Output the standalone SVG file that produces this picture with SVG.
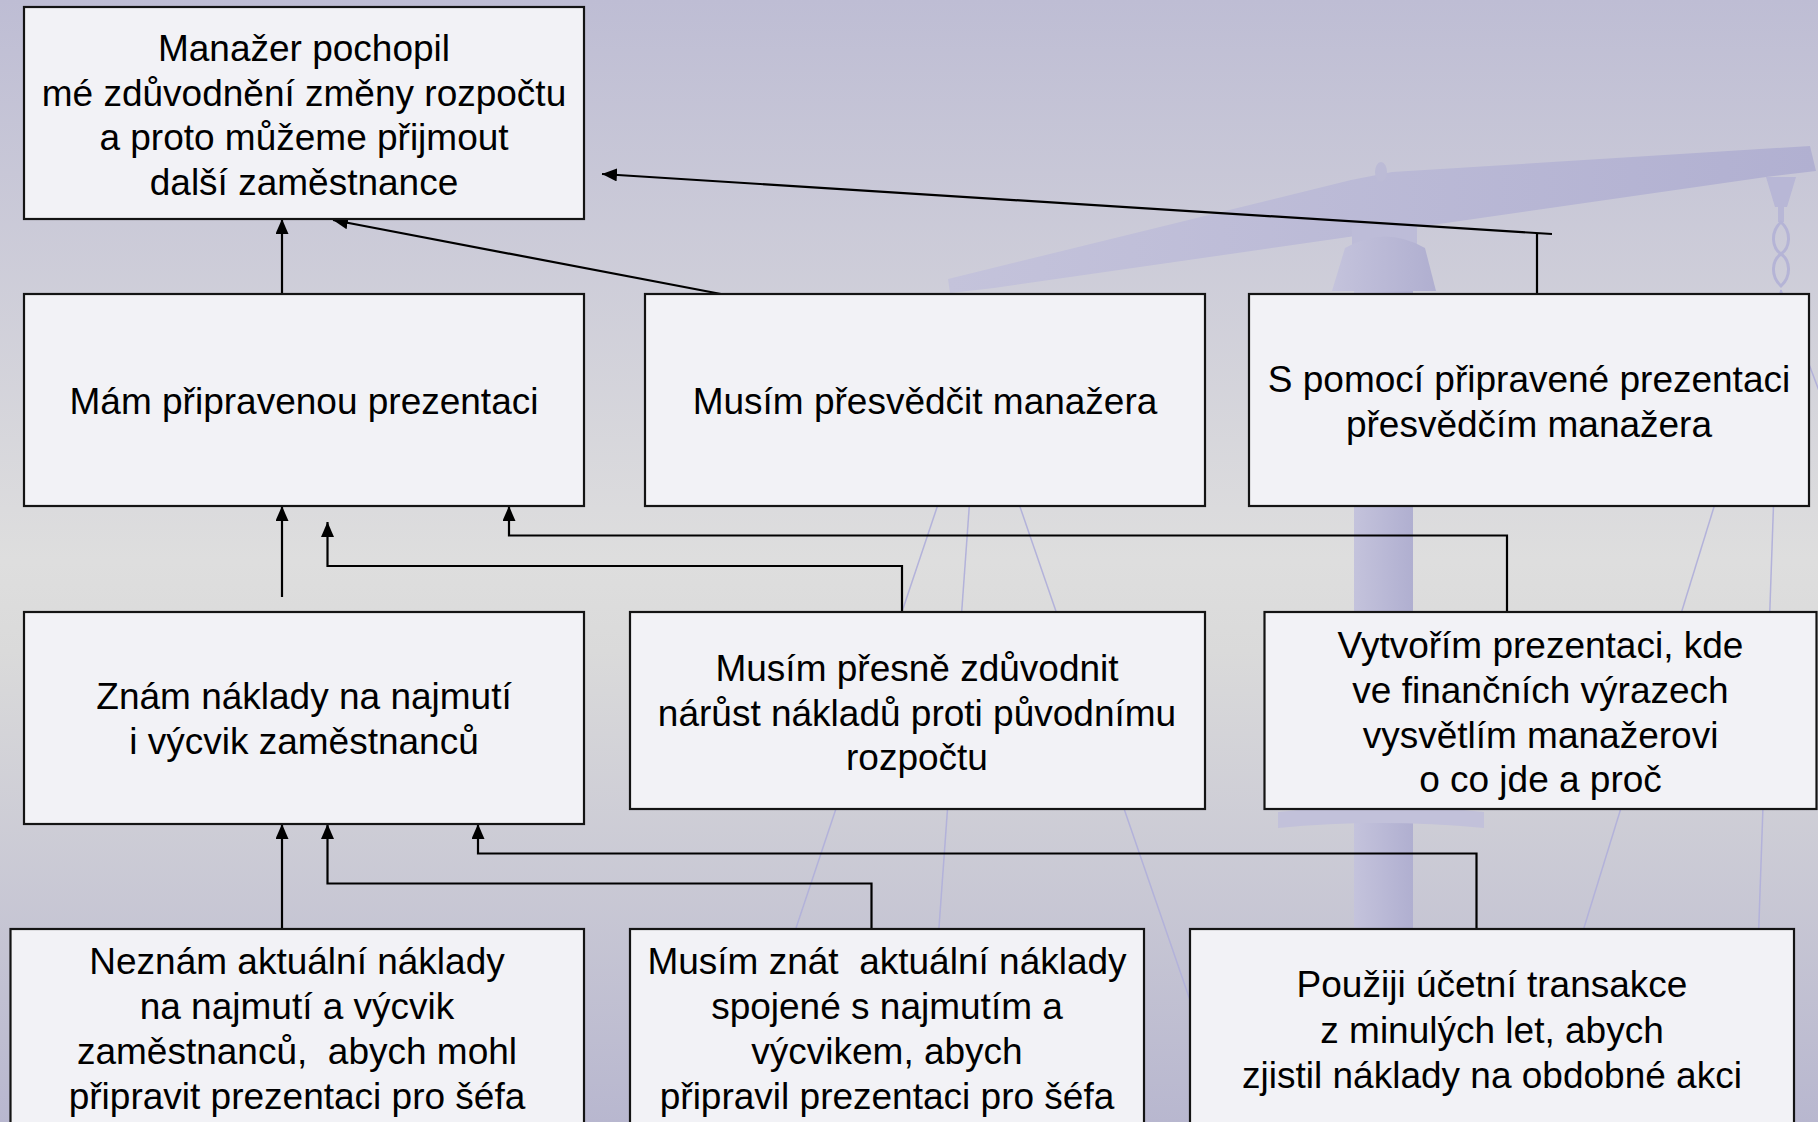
<svg xmlns="http://www.w3.org/2000/svg" width="1818" height="1122" viewBox="0 0 1818 1122">
<defs>
<linearGradient id="bg" x1="0" y1="0" x2="0" y2="1">
<stop offset="0" stop-color="#bebdd4"/>
<stop offset="0.5" stop-color="#dedede"/>
<stop offset="0.58" stop-color="#dadada"/>
<stop offset="1" stop-color="#b8b7cf"/>
</linearGradient>
<linearGradient id="beam" x1="0" y1="0" x2="1" y2="0">
<stop offset="0" stop-color="#c4c3db"/>
<stop offset="1" stop-color="#b1b0d1"/>
</linearGradient>
<linearGradient id="col" x1="0" y1="0" x2="1" y2="0">
<stop offset="0" stop-color="#c4c3dc"/>
<stop offset="1" stop-color="#b0afd0"/>
</linearGradient>
<marker id="ah" viewBox="0 0 15 13" refX="15" refY="6.5" markerWidth="15" markerHeight="13" orient="auto" markerUnits="userSpaceOnUse">
<path d="M0,0 L15,6.5 L0,13 z" fill="#000"/>
</marker>
<style>
.box{fill:#f2f2f6;stroke:#141414;stroke-width:2.2}
.t{font-family:"Liberation Sans",Arial,sans-serif;font-size:37px;fill:#000;text-anchor:middle}
.c{fill:none;stroke:#000;stroke-width:2.2}
.s{fill:none;stroke:#b3b2da;stroke-width:1.5}
</style>
</defs>
<rect x="0" y="0" width="1818" height="1122" fill="url(#bg)"/>
<g id="background-scale">
<polygon points="948,279 1351,180 1392,172 1810,146 1816,171 1766,177 994,288 950,293" fill="url(#beam)"/>
<ellipse cx="1381" cy="172" rx="6" ry="10" fill="#bcbbd6"/>
<rect x="1352" y="226" width="65" height="22" fill="#bdbcd8"/>
<path d="M1345,248 Q1385,225 1425,248 L1436,291 L1332,291 Z" fill="url(#col)"/>
<rect x="1354" y="291" width="59" height="831" fill="url(#col)"/>
<path d="M1278,812 Q1380,800 1484,812 L1484,828 Q1380,818 1278,828 Z" fill="#c2c1da"/>
<path d="M1766,177 L1796,177 L1787,207 L1784,207 L1784,222 L1778,222 L1778,207 L1775,207 Z" fill="#b8b7d6"/>
<path d="M1781,222 C1770,232 1772,248 1781,254 C1790,260 1792,276 1781,286 C1770,276 1772,260 1781,254 C1790,248 1792,232 1781,222 Z" fill="none" stroke="#b5b4d6" stroke-width="3"/>
<line class="s" x1="978" y1="385" x2="731" y2="1122"/>
<line class="s" x1="978" y1="385" x2="925" y2="1122"/>
<line class="s" x1="978" y1="385" x2="1232" y2="1122"/>
<line class="s" x1="1781" y1="290" x2="1524" y2="1122"/>
<line class="s" x1="1781" y1="290" x2="1752" y2="1122"/>
<line class="s" x1="1781" y1="290" x2="1830" y2="420"/>
</g>
<g id="connectors">
<path class="c" d="M282,294 V219" marker-end="url(#ah)"/>
<path class="c" d="M721,294 L333,220" marker-end="url(#ah)" stroke-width="2.6"/>
<path class="c" d="M1537,294 V234 M1552,234 L602,174" marker-end="url(#ah)"/>
<path class="c" d="M282,597 V506" marker-end="url(#ah)"/>
<path class="c" d="M902,612 V566 H327.5 V522" marker-end="url(#ah)"/>
<path class="c" d="M1507,612 V535.5 H509 V506" marker-end="url(#ah)"/>
<path class="c" d="M282,929 V824" marker-end="url(#ah)"/>
<path class="c" d="M871.5,929 V883.5 H327.5 V824" marker-end="url(#ah)"/>
<path class="c" d="M1476.5,929 V853.5 H478 V824" marker-end="url(#ah)"/>
</g>
<g id="n1">
<rect class="box" x="24" y="7" width="560" height="212"/>
<text class="t" x="304" y="61">Manažer pochopil</text>
<text class="t" x="304" y="105.5">mé zdůvodnění změny rozpočtu</text>
<text class="t" x="304" y="150">a proto můžeme přijmout</text>
<text class="t" x="304" y="194.5">další zaměstnance</text>
</g>
<g id="n2">
<rect class="box" x="24" y="294" width="560" height="212"/>
<text class="t" x="304" y="414">Mám připravenou prezentaci</text>
</g>
<g id="n3">
<rect class="box" x="645" y="294" width="560" height="212"/>
<text class="t" x="925" y="414">Musím přesvědčit manažera</text>
</g>
<g id="n4">
<rect class="box" x="1249" y="294" width="560" height="212"/>
<text class="t" x="1529" y="392">S pomocí připravené prezentaci</text>
<text class="t" x="1529" y="437">přesvědčím manažera</text>
</g>
<g id="n5">
<rect class="box" x="24" y="612" width="560" height="212"/>
<text class="t" x="304" y="709">Znám náklady na najmutí</text>
<text class="t" x="304" y="754">i výcvik zaměstnanců</text>
</g>
<g id="n6">
<rect class="box" x="630" y="612" width="575" height="197"/>
<text class="t" x="917" y="681">Musím přesně zdůvodnit</text>
<text class="t" x="917" y="725.5">nárůst nákladů proti původnímu</text>
<text class="t" x="917" y="770">rozpočtu</text>
</g>
<g id="n7">
<rect class="box" x="1264.5" y="612" width="552" height="197"/>
<text class="t" x="1540.5" y="658">Vytvořím prezentaci, kde</text>
<text class="t" x="1540.5" y="703">ve finančních výrazech</text>
<text class="t" x="1540.5" y="748">vysvětlím manažerovi</text>
<text class="t" x="1540.5" y="792">o co jde a proč</text>
</g>
<g id="n8">
<rect class="box" x="10.5" y="929" width="573.5" height="200"/>
<text class="t" x="297" y="974">Neznám aktuální náklady</text>
<text class="t" x="297" y="1019">na najmutí a výcvik</text>
<text class="t" x="297" y="1064" xml:space="preserve">zaměstnanců,  abych mohl</text>
<text class="t" x="297" y="1109">připravit prezentaci pro šéfa</text>
</g>
<g id="n9">
<rect class="box" x="630" y="929" width="514" height="200"/>
<text class="t" x="887" y="974" xml:space="preserve">Musím znát  aktuální náklady</text>
<text class="t" x="887" y="1019">spojené s najmutím a</text>
<text class="t" x="887" y="1064">výcvikem, abych</text>
<text class="t" x="887" y="1109">připravil prezentaci pro šéfa</text>
</g>
<g id="n10">
<rect class="box" x="1190" y="929" width="604" height="200"/>
<text class="t" x="1492" y="997">Použiji účetní transakce</text>
<text class="t" x="1492" y="1042.5">z minulých let, abych</text>
<text class="t" x="1492" y="1088">zjistil náklady na obdobné akci</text>
</g>
</svg>
